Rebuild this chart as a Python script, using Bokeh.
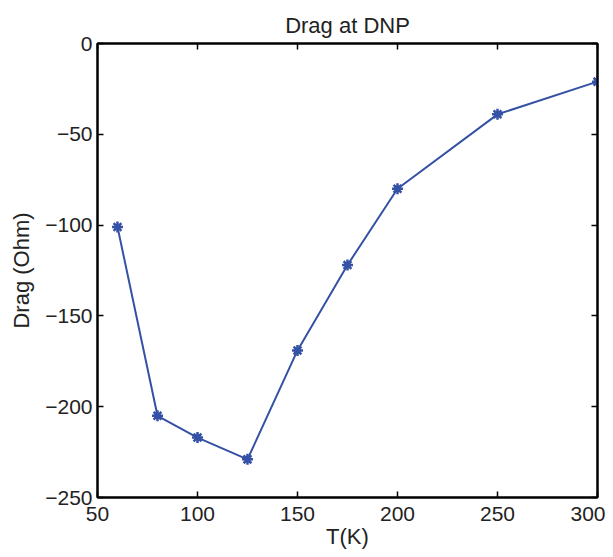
from bokeh.plotting import figure
from bokeh.models import LinearAxis, Range1d, FixedTicker, ColumnDataSource, CustomLabelingPolicy
from bokeh.embed import file_html
from bokeh.resources import INLINE

temps = [60, 80, 100, 125, 150, 175, 200, 250, 300]
drag = [-101, -205, -217, -229, -169, -122, -80, -39, -21]
x_ticks = [50, 100, 150, 200, 250, 300]
y_ticks = [-250, -200, -150, -100, -50, 0]

FONT = "Liberation Sans"
BLUE = "#3451a6"
TXT = "#222222"

src = ColumnDataSource(dict(x=temps, y=drag))

p = figure(frame_width=500, frame_height=454, output_backend="svg", toolbar_location=None,
           x_range=Range1d(50, 300), y_range=Range1d(-250, 0),
           min_border_left=97, min_border_right=8, min_border_top=43, min_border_bottom=56,
           title="Drag at DNP", x_axis_label="T(K)", y_axis_label="Drag (Ohm)")
p.grid.visible = False
p.outline_line_color = "black"
p.outline_line_width = 2
p.background_fill_color = "white"
p.border_fill_color = "white"

p.title.align = "center"
p.title.text_font = FONT
p.title.text_font_style = "normal"
p.title.text_font_size = "22px"
p.title.text_color = TXT
p.title.standoff = 3

for ax in (p.xaxis[0], p.yaxis[0]):
    ax.major_label_text_font = FONT
    ax.major_label_text_font_size = "21px"
    ax.major_label_text_color = TXT
    ax.axis_label_text_font = FONT
    ax.axis_label_text_font_size = "22px"
    ax.axis_label_text_font_style = "normal"
    ax.axis_label_text_color = TXT
    ax.major_tick_in = 6
    ax.major_tick_out = 0
    ax.minor_tick_in = 0
    ax.minor_tick_out = 0
    ax.axis_line_width = 2
    ax.major_tick_line_width = 1.5
    ax.axis_line_color = "black"

p.xaxis[0].ticker = FixedTicker(ticks=x_ticks)
p.yaxis[0].ticker = FixedTicker(ticks=y_ticks)
p.yaxis[0].major_label_overrides = {t: str(t).replace("-", "\u2212") for t in y_ticks}
p.xaxis[0].major_label_standoff = 9
p.yaxis[0].major_label_standoff = 5
p.xaxis[0].axis_label_standoff = 0
p.yaxis[0].axis_label_standoff = 8

hide = "for (const i of Array.from(indices)) { indices.unset(i) } return indices"
for loc, ticks in (("above", x_ticks), ("right", y_ticks)):
    a = LinearAxis(ticker=FixedTicker(ticks=ticks),
                   major_label_policy=CustomLabelingPolicy(code=hide),
                   major_label_text_font_size="1px",
                   major_tick_in=6, major_tick_out=0, minor_tick_in=0, minor_tick_out=0,
                   axis_line_width=2, major_tick_line_width=1.5, major_label_standoff=0)
    p.add_layout(a, loc)

p.line("x", "y", source=src, line_color=BLUE, line_width=2)
p.scatter("x", "y", source=src, marker="asterisk", size=11, line_color=BLUE, line_width=2.5)

open("out.html", "w").write(file_html(p, INLINE))
